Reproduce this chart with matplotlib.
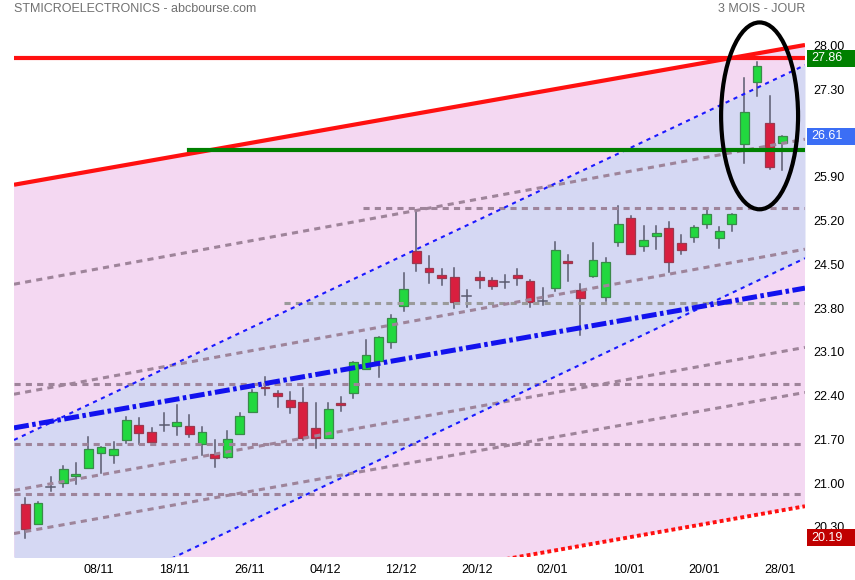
import matplotlib
matplotlib.use("Agg")
import matplotlib.pyplot as plt
import matplotlib.transforms as mtransforms
from matplotlib.patches import Ellipse, Rectangle
import numpy as np

# --- données (cours journaliers, 3 mois) ---
opens = [20.73, 20.41, 21.00, 21.06, 21.18, 21.30, 21.54, 21.51, 21.75, 21.99,
         21.88, 21.99, 21.98, 21.98, 21.69, 21.53, 21.49, 21.85, 22.20, 22.60,
         22.50, 22.39, 22.36, 21.94, 21.79, 22.35, 22.50, 22.89, 23.02, 23.33,
         23.89, 24.78, 24.50, 24.39, 24.36, 24.06, 24.36, 24.31, 24.28, 24.39,
         24.30, 23.98, 24.19, 24.62, 24.15, 24.38, 24.04, 24.93, 25.30, 24.85,
         25.01, 25.14, 24.90, 25.00, 25.21, 24.98, 25.21, 26.49, 27.49, 26.82,
         26.50]
highs = [20.82, 20.77, 21.16, 21.34, 21.38, 21.80, 21.64, 21.72, 22.12, 22.11,
         21.94, 22.18, 22.31, 22.15, 21.96, 21.75, 21.90, 22.18, 22.55, 22.76,
         22.53, 22.52, 22.58, 22.34, 22.34, 22.44, 23.00, 23.35, 23.40, 23.75,
         24.42, 25.43, 24.70, 24.49, 24.50, 24.15, 24.44, 24.34, 24.39, 24.49,
         24.31, 24.18, 24.93, 24.71, 24.25, 24.90, 24.66, 25.50, 25.34, 25.18,
         25.18, 25.24, 25.03, 25.17, 25.43, 25.16, 25.37, 27.54, 27.80, 27.25,
         26.61]
lows = [20.19, 20.41, 20.94, 21.00, 21.05, 21.30, 21.23, 21.38, 21.70, 21.69,
        21.73, 21.89, 21.84, 21.81, 21.51, 21.33, 21.47, 21.85, 22.20, 22.47,
        22.29, 22.19, 21.75, 21.62, 21.79, 22.21, 22.43, 22.89, 22.77, 23.23,
        23.82, 24.46, 24.27, 24.24, 23.86, 23.88, 24.18, 24.17, 24.19, 24.24,
        23.88, 23.92, 24.14, 24.30, 23.43, 24.36, 23.98, 24.86, 24.73, 24.78,
        24.81, 24.44, 24.73, 24.93, 25.14, 24.82, 25.10, 26.19, 27.26, 26.09,
        26.08]
closes = [20.33, 20.74, 21.00, 21.29, 21.21, 21.61, 21.64, 21.61, 22.07, 21.86,
          21.73, 21.99, 22.05, 21.85, 21.88, 21.46, 21.77, 22.13, 22.52, 22.58,
          22.46, 22.29, 21.79, 21.78, 22.25, 22.32, 23.00, 23.11, 23.40, 23.70,
          24.17, 24.58, 24.45, 24.34, 23.97, 24.06, 24.32, 24.22, 24.28, 24.34,
          23.97, 23.98, 24.79, 24.58, 24.02, 24.63, 24.60, 25.21, 24.73, 24.95,
          25.06, 24.61, 24.79, 25.16, 25.37, 25.09, 25.37, 27.00, 27.73, 26.13,
          26.61]

date_labels = ['08/11', '18/11', '26/11', '04/12', '12/12', '20/12',
               '02/01', '10/01', '20/01', '28/01']
# 26.60 est caché par l'étiquette du dernier cours
y_ticks = [20.30, 21.00, 21.70, 22.40, 23.10, 23.80, 24.50, 25.20, 25.90, 27.30, 28.00]

# droites tracées (valeur au 1er et au dernier jour)
red_channel_top = [25.87, 28.01]
red_channel_bottom = [18.49, 20.63]
blue_channel_top = [21.84, 27.58]
blue_channel_bottom = [18.75, 24.49]
blue_trend = [21.98, 24.12]
mauve_lines = [[24.28, 26.50], [22.52, 24.74], [20.98, 23.17], [20.29, 22.45]]

# niveaux horizontaux (valeur, jour de départ)
resistance_high = 27.86
support_green = (26.39, 13)
level_mauve = (25.47, 27)
level_gray = (23.95, 21)
full_levels = [22.65, 21.69, 20.89]

last_price = 26.61
period_high = 27.86
period_low = 20.19

# --- figure ---
fig = plt.figure(figsize=(8.55, 5.8), dpi=100)
ax = fig.add_axes([14 / 855, 1 - 557 / 580, 791 / 855, 527 / 580])

n = len(closes)
idx = np.arange(n)
xmin, xmax = -0.9, 61.8
ax.set_xlim(xmin, xmax)
ax.set_ylim(19.882, 28.314)

xs = np.linspace(xmin, xmax, 50)


def line_vals(pair, x):
    a, b = pair
    return a + (b - a) * x / (n - 1)


# zones colorées
ax.fill_between(xs, line_vals(red_channel_bottom, xs), line_vals(red_channel_top, xs),
                color='#f4d8f2', lw=0, zorder=0)
ax.fill_between(xs, line_vals(blue_channel_bottom, xs), line_vals(blue_channel_top, xs),
                color='#d5d8f3', lw=0, zorder=0.5)

# bougies
wick_col = '#5a5a6e'
for i in idx:
    o, h, l, c = opens[i], highs[i], lows[i], closes[i]
    ax.plot([i, i], [l, h], color=wick_col, lw=1.1, zorder=2)
    if abs(c - o) < 0.015:
        ax.plot([i - 0.35, i + 0.35], [o, o], color=wick_col, lw=1.1, zorder=2)
        continue
    if c > o:
        fc, ec = '#22d83f', '#3a8a4a'
    else:
        fc, ec = '#d91f3f', '#9a3a50'
    ax.add_patch(Rectangle((i - 0.35, min(o, c)), 0.7, abs(c - o),
                           facecolor=fc, edgecolor=ec, lw=0.9, zorder=3))

# lignes horizontales pointillées
mauve = '#9e849a'
for v in full_levels:
    ax.plot([xmin, xmax], [v, v], color=mauve, lw=2.2, ls=(0, (2, 1.7)), zorder=4)
ax.plot([level_mauve[1] - 0.2, xmax], [level_mauve[0]] * 2, color=mauve, lw=2.2,
        ls=(0, (2, 1.7)), zorder=4)
ax.plot([level_gray[1] - 0.5, xmax], [level_gray[0]] * 2, color='#9a9a9a', lw=2.2,
        ls=(0, (2, 1.7)), zorder=4)

# droites obliques
for pair in mauve_lines:
    ax.plot(xs, line_vals(pair, xs), color=mauve, lw=2.2, ls=(0, (2, 1.7)), zorder=4)
ax.plot(xs, line_vals(blue_channel_top, xs), color='#1a1aff', lw=1.5, ls=(0, (2, 2.2)), zorder=4)
ax.plot(xs, line_vals(blue_channel_bottom, xs), color='#1a1aff', lw=1.5, ls=(0, (2, 2.2)), zorder=4)
ax.plot(xs, line_vals(blue_trend, xs), color='#1212ee', lw=3.6, ls=(0, (3, 0.7, 0.7, 0.7)), zorder=4)
ax.plot(xs, line_vals(red_channel_top, xs), color='#ff1010', lw=3, solid_capstyle='butt', zorder=5)
ax.plot(xs, line_vals(red_channel_bottom, xs), color='#ff1010', lw=2.8, ls=(0, (1, 0.8)), zorder=5)
ax.plot([xmin, xmax], [resistance_high] * 2, color='#ff1010', lw=3, zorder=5)
ax.plot([support_green[1], xmax], [support_green[0]] * 2, color='#008000', lw=3, zorder=5)

# ellipse noire
ax.add_patch(Ellipse((58.2, 26.94), 6.1, 2.99, fill=False, edgecolor='black', lw=3,
                     clip_on=False, zorder=6))

# axes
for s in ax.spines.values():
    s.set_visible(False)
ax.yaxis.tick_right()
ax.set_yticks(y_ticks)
ax.set_yticklabels(['%.2f' % v for v in y_ticks], fontsize=9, family='Liberation Sans')
ax.tick_params(axis='y', length=0, pad=6)
up = mtransforms.ScaledTranslation(0, 4 / 100, fig.dpi_scale_trans)
for lab in ax.get_yticklabels():
    lab.set_transform(lab.get_transform() + up)
ax.set_xticks([6 * (k + 1) - 0.2 for k in range(len(date_labels))])
ax.set_xticklabels(date_labels, fontsize=9, family='Liberation Sans')
ax.tick_params(axis='x', length=0, pad=5)

# étiquettes de prix
tr = mtransforms.blended_transform_factory(fig.transFigure, ax.transData)
for v, col in [(period_high, '#008000'), (last_price, '#3b6ef5'), (period_low, '#c00000')]:
    ax.add_patch(Rectangle((807 / 855, v - 0.135), 48 / 855, 0.27, transform=tr,
                           facecolor=col, edgecolor='none', clip_on=False, zorder=7))
    ax.text(811 / 855, v, '%.2f' % v, transform=tr, color='white', fontsize=9,
            family='Liberation Sans', va='center', ha='left', zorder=8)

fig.text(14 / 855, 1 - 9 / 580, 'STMICROELECTRONICS - abcbourse.com', color='#707070',
         fontsize=9, family='Liberation Sans', va='center', ha='left')
fig.text(805 / 855, 1 - 9 / 580, '3 MOIS - JOUR', color='#707070',
         fontsize=9, family='Liberation Sans', va='center', ha='right')

fig.savefig('out.png', dpi=100)
